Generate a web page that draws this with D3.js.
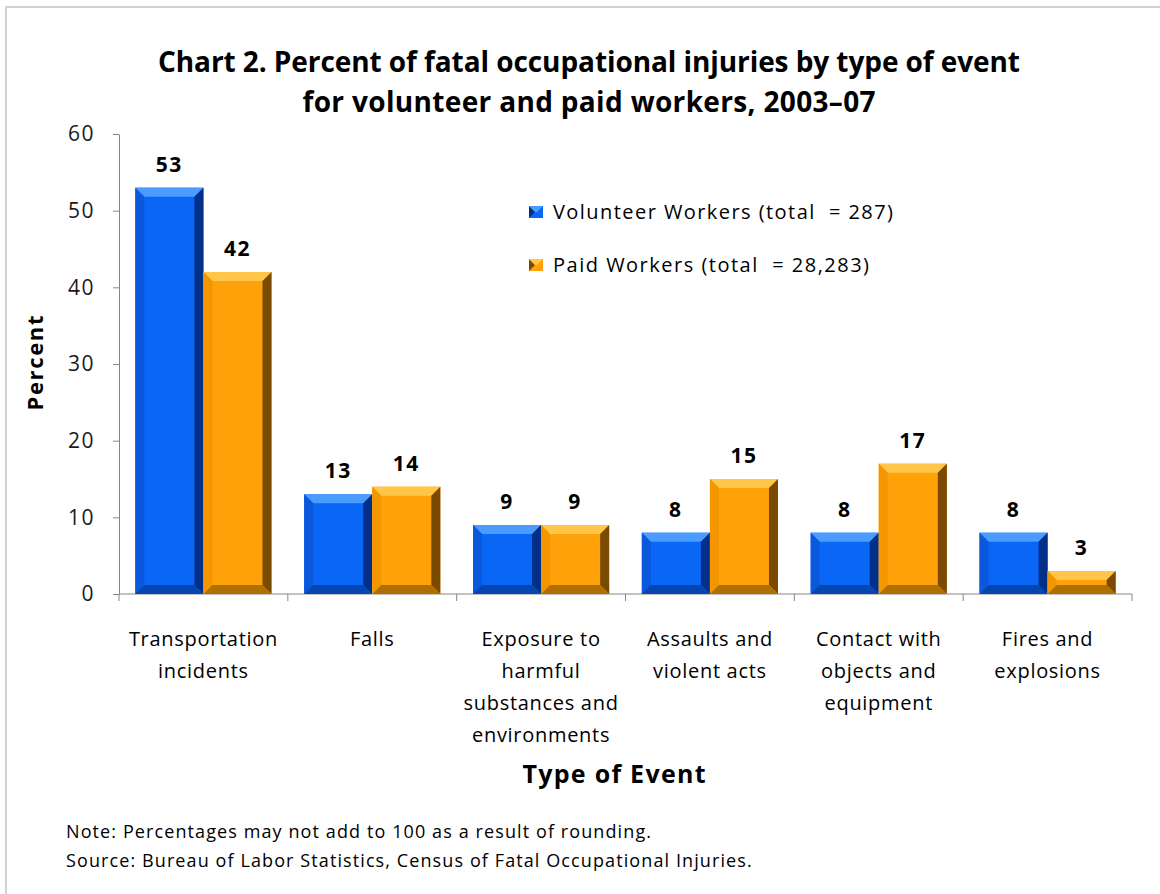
<!DOCTYPE html>
<head>
<meta charset="utf-8">
<style>
body { margin: 0; background: #fff; }
text { font-family: "Open Sans", Carlito, Calibri, sans-serif; fill: #000; }
.axis path, .axis line { stroke: #868686; }
.axis text { font-size: 21px; fill: #1a1a1a; letter-spacing: 1.5px; font-family: "Open Sans", sans-serif; }
</style>
</head>
<body>
<script src="https://cdn.jsdelivr.net/npm/d3@7"></script>
<script>
// data
var categories = [
  ["Transportation", "incidents"],
  ["Falls"],
  ["Exposure to", "harmful", "substances and", "environments"],
  ["Assaults and", "violent acts"],
  ["Contact with", "objects and", "equipment"],
  ["Fires and", "explosions"]
];
var volunteer = [53, 13, 9, 8, 8, 8];
var paid = [42, 14, 9, 15, 17, 3];
var seriesNames = ["Volunteer Workers (total  = 287)", "Paid Workers (total  = 28,283)"];
var yTicks = [0, 10, 20, 30, 40, 50, 60];

var width = 1160, height = 894;
var margin = {left: 119, right: 28, top: 134, bottom: 300};

var svg = d3.select("body").append("svg")
    .attr("width", width)
    .attr("height", height);

// frame
svg.append("path")
    .attr("d", "M6,894V7H1160")
    .attr("fill", "none")
    .attr("stroke", "#d2d2d2")
    .attr("stroke-width", 2);

var x = d3.scaleBand()
    .domain(d3.range(categories.length))
    .range([margin.left, width - margin.right])
    .padding(0);

var xSub = d3.scaleBand()
    .domain([0, 1])
    .range([0, x.bandwidth()])
    .paddingInner(0)
    .paddingOuter(0.24);

var y = d3.scaleLinear()
    .domain([0, 60])
    .range([height - margin.bottom, margin.top]);

// y axis
svg.append("g")
    .attr("class", "axis")
    .attr("transform", "translate(" + margin.left + ",0)")
    .call(d3.axisLeft(y).tickValues(yTicks).tickSize(6).tickPadding(18).tickSizeOuter(0));

// x axis with ticks at category boundaries
var xg = svg.append("g").attr("class", "axis");
xg.append("line")
    .attr("x1", margin.left).attr("x2", width - margin.right)
    .attr("y1", y(0)).attr("y2", y(0));
xg.selectAll("line.tk")
    .data(d3.range(categories.length + 1))
    .enter().append("line")
    .attr("class", "tk")
    .attr("x1", d => d < categories.length ? x(d) : x(d - 1) + x.bandwidth())
    .attr("x2", d => d < categories.length ? x(d) : x(d - 1) + x.bandwidth())
    .attr("y1", y(0)).attr("y2", y(0) + 7);

var colors = [
  {base: "#0a66f5", light: "#4a9dff", side: "#0a58dc", dark: "#022f88", bottom: "#0646b0"},
  {base: "#ffa20a", light: "#ffc64a", side: "#f39600", dark: "#7a4a00", bottom: "#b07000"}
];

var bars = [];
categories.forEach(function(c, i) {
  bars.push({cat: i, s: 0, v: volunteer[i]});
  bars.push({cat: i, s: 1, v: paid[i]});
});

// bevelled bars
var bv = 9;
var bar = svg.selectAll("g.bar")
    .data(bars)
    .enter().append("g")
    .attr("class", "bar");

bar.each(function(d) {
  var g = d3.select(this);
  var x0 = x(d.cat) + xSub(d.s), w = xSub.bandwidth();
  var y0 = y(d.v), y1 = y(0), h = y1 - y0;
  var b = Math.min(bv, h / 2), col = colors[d.s];
  var x1 = x0 + w;
  g.append("rect").attr("x", x0).attr("y", y0).attr("width", w).attr("height", h).attr("fill", col.base);
  // top
  g.append("polygon").attr("points", [[x0, y0], [x1, y0], [x1 - b, y0 + b], [x0 + b, y0 + b]].join(" "))
    .attr("fill", col.light);
  // left
  g.append("polygon").attr("points", [[x0, y0], [x0 + b, y0 + b], [x0 + b, y1 - b], [x0, y1]].join(" "))
    .attr("fill", col.side);
  // right
  g.append("polygon").attr("points", [[x1, y0], [x1, y1], [x1 - b, y1 - b], [x1 - b, y0 + b]].join(" "))
    .attr("fill", col.dark);
  // bottom
  g.append("polygon").attr("points", [[x0, y1], [x1, y1], [x1 - b, y1 - b], [x0 + b, y1 - b]].join(" "))
    .attr("fill", col.bottom);
});

// value labels
svg.selectAll("text.val")
    .data(bars)
    .enter().append("text")
    .attr("class", "val")
    .attr("x", d => x(d.cat) + xSub(d.s) + xSub.bandwidth() / 2)
    .attr("y", d => y(d.v) - 16)
    .attr("text-anchor", "middle")
    .style("font-size", "21px")
    .style("font-weight", "bold")
    .style("letter-spacing", "1.5px")
    .attr("fill", "#1a1a1a")
    .text(d => d.v);

// category labels
var catLabel = svg.selectAll("text.cat")
    .data(categories)
    .enter().append("text")
    .attr("class", "cat")
    .attr("text-anchor", "middle")
    .style("font-size", "20px")
    .style("letter-spacing", "0.7px")
    .attr("fill", "#1a1a1a");
catLabel.each(function(lines, i) {
  d3.select(this).selectAll("tspan")
    .data(lines)
    .enter().append("tspan")
    .attr("x", x(i) + x.bandwidth() / 2)
    .attr("y", (l, j) => 646 + j * 32)
    .text(l => l);
});

// title
svg.append("text")
    .attr("x", 589).attr("y", 72)
    .attr("text-anchor", "middle")
    .attr("textLength", 862)
    .style("font-size", "28px").style("font-weight", "bold")
    .text("Chart 2. Percent of fatal occupational injuries by type of event");
svg.append("text")
    .attr("x", 589).attr("y", 112)
    .attr("text-anchor", "middle")
    .attr("textLength", 573)
    .style("font-size", "28px").style("font-weight", "bold")
    .text("for volunteer and paid workers, 2003\u201307");

// axis titles
svg.append("text")
    .attr("transform", "translate(43,363) rotate(-90)")
    .attr("text-anchor", "middle")
    .attr("textLength", 95)
    .style("font-size", "22px").style("font-weight", "bold")
    .text("Percent");
svg.append("text")
    .attr("x", 614).attr("y", 783)
    .attr("text-anchor", "middle")
    .attr("textLength", 183)
    .style("font-size", "25px").style("font-weight", "bold")
    .text("Type of Event");

// legend
var legendWidths = [340, 316];
var legend = svg.selectAll("g.legend")
    .data(seriesNames)
    .enter().append("g")
    .attr("class", "legend")
    .attr("transform", (d, i) => "translate(529," + (206 + i * 53) + ")");
legend.append("rect").attr("width", 14).attr("height", 12)
    .attr("fill", (d, i) => colors[i].base);
legend.append("polygon").attr("points", "0,0 6,6 0,12").attr("fill", (d, i) => colors[i].dark);
legend.append("polygon").attr("points", "0,0 14,0 8,6 6,6").attr("fill", (d, i) => colors[i].light);
legend.append("text")
    .attr("x", 24).attr("y", 13)
    .attr("textLength", (d, i) => legendWidths[i])
    .style("font-size", "20px")
    .style("white-space", "pre")
    .attr("fill", "#1a1a1a")
    .text(d => d);

// notes
svg.append("text")
    .attr("x", 66).attr("y", 838)
    .style("font-size", "18px")
    .style("letter-spacing", "1.1px")
    .attr("fill", "#1a1a1a")
    .text("Note: Percentages may not add to 100 as a result of rounding.");
svg.append("text")
    .attr("x", 66).attr("y", 867)
    .style("font-size", "18px")
    .style("letter-spacing", "1.1px")
    .attr("fill", "#1a1a1a")
    .text("Source: Bureau of Labor Statistics, Census of Fatal Occupational Injuries.");
</script>
</body>
</html>
